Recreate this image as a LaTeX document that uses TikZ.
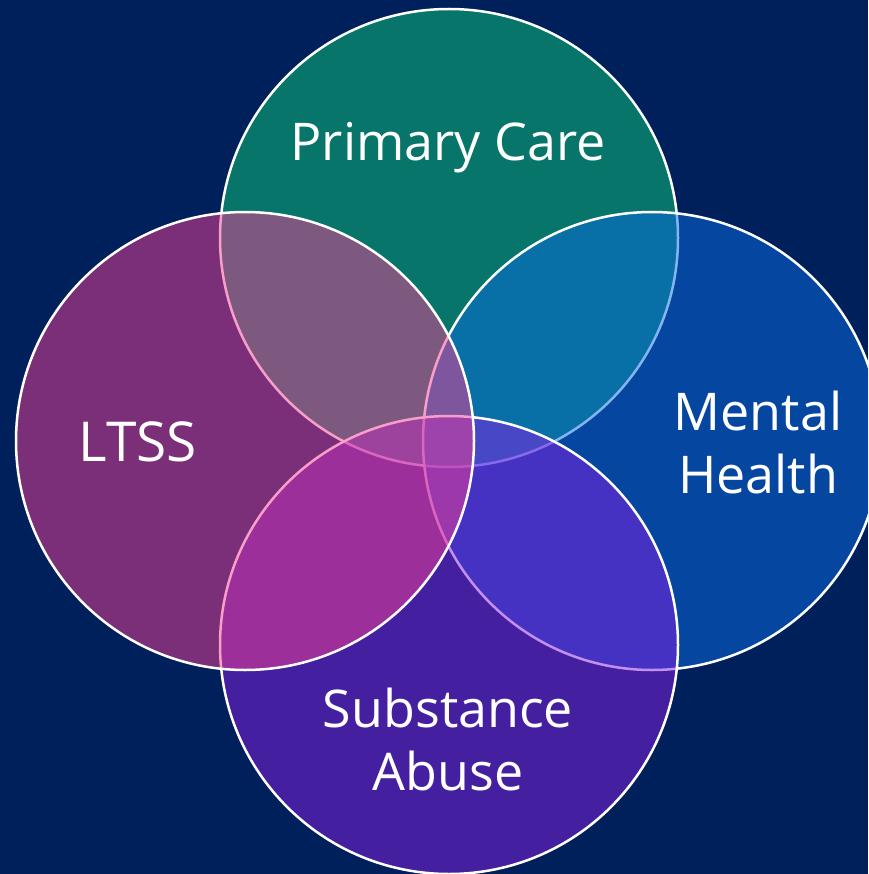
\documentclass[tikz,border=0pt]{standalone}
\usepackage{fontspec}
\setmainfont{Open Sans}
\definecolor{bgnavy}{RGB}{0,32,92}
\definecolor{pcteal}{RGB}{7,117,106}
\definecolor{mhblue}{RGB}{10,108,228}
\definecolor{saviolet}{RGB}{136,32,228}
\definecolor{ltsspink}{RGB}{244,62,148}
\tikzset{
  ring/.style={draw=white, line width=2.5pt},
  glass/.style={fill opacity=0.5},
  lbl/.style={text=white, font=\fontsize{52}{62}\selectfont, anchor=base, inner sep=0pt}
}
\begin{document}
\begin{tikzpicture}[x=1pt,y=-1pt]
\useasboundingbox (0,0) rectangle (868,874);
\fill[bgnavy] (0,0) rectangle (868,874);
\clip (0,0) rectangle (868,874);
% Primary Care
\fill[pcteal] (449,238) circle (229);
\draw[ring] (449,238) circle (229);
% Mental Health
\fill[mhblue,glass] (652,441) circle (229);
\draw[ring] (652,441) circle (229);
% Substance Abuse
\fill[saviolet,glass] (449,645) circle (229);
\draw[ring] (449,645) circle (229);
% LTSS
\fill[ltsspink,glass] (245,441) circle (229);
\draw[ring] (245,441) circle (229);
% labels
\node[lbl] (pc) at (448,161) {Primary Care};
\node[lbl, font=\fontsize{55}{62}\selectfont] (lt) at (138,461) {LTSS};
\node[lbl] (mh1) at (758,430) {Mental};
\node[lbl] (mh2) at (758,493) {Health};
\node[lbl] (sa1) at (448,727) {Substance};
\node[lbl] (sa2) at (448,790) {Abuse};
\end{tikzpicture}
\end{document}
